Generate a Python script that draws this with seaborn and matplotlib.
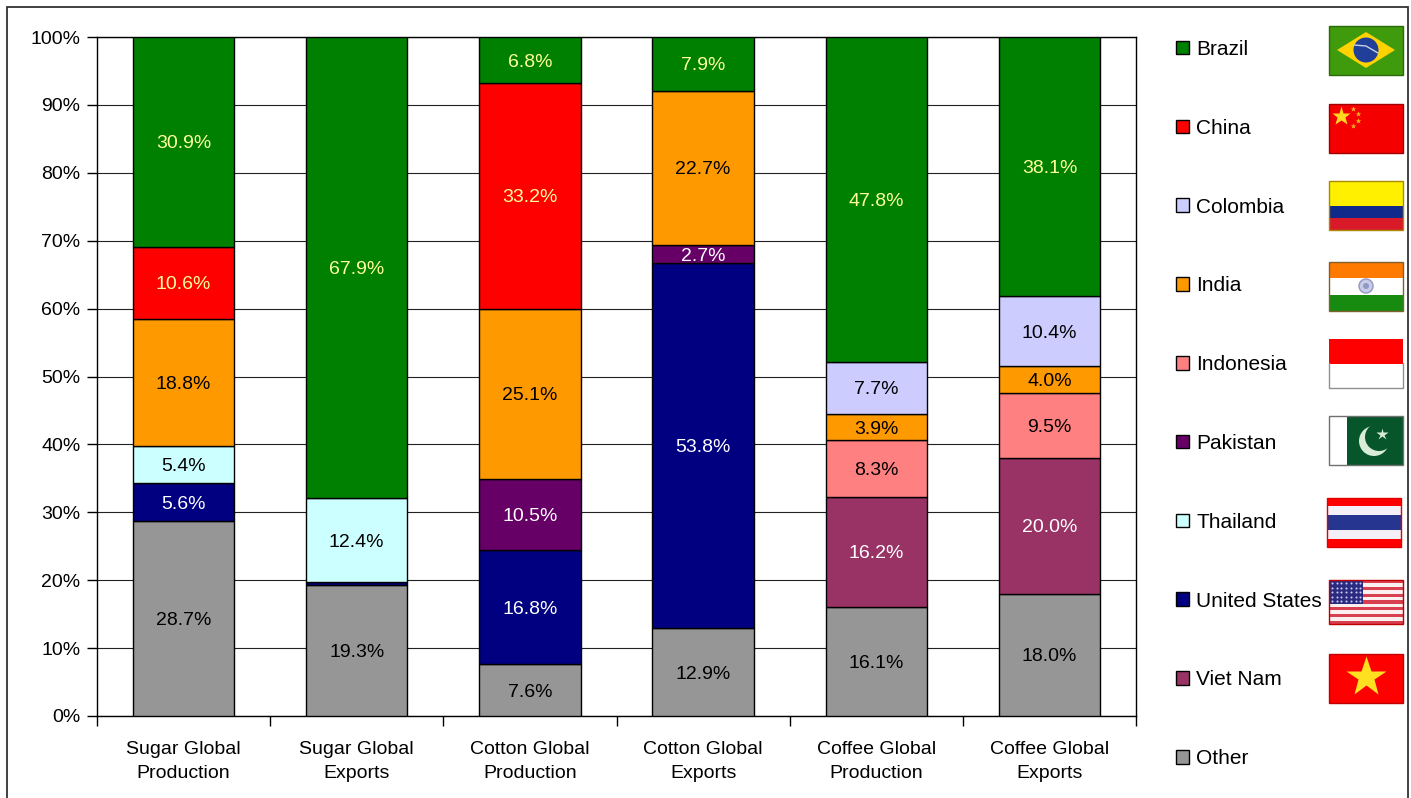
import matplotlib
matplotlib.use("Agg")
import matplotlib.pyplot as plt
from matplotlib.patches import Rectangle, Polygon, Circle, Patch
import numpy as np
import pandas as pd
import seaborn as sns

categories = ["Sugar Global\nProduction", "Sugar Global\nExports", "Cotton Global\nProduction",
              "Cotton Global\nExports", "Coffee Global\nProduction", "Coffee Global\nExports"]

other = [28.7, 19.3, 7.6, 12.9, 16.1, 18.0]
viet_nam = [0, 0, 0, 0, 16.2, 20.0]
united_states = [5.6, 0.4, 16.8, 53.8, 0, 0]
thailand = [5.4, 12.4, 0, 0, 0, 0]
pakistan = [0, 0, 10.5, 2.7, 0, 0]
indonesia = [0, 0, 0, 0, 8.3, 9.5]
india = [18.8, 0, 25.1, 22.7, 3.9, 4.0]
colombia = [0, 0, 0, 0, 7.7, 10.4]
china = [10.6, 0, 33.2, 0, 0, 0]
brazil = [30.9, 67.9, 6.8, 7.9, 47.8, 38.1]

series_names = ["Other", "Viet Nam", "United States", "Thailand", "Pakistan",
                "Indonesia", "India", "Colombia", "China", "Brazil"]
series_values = [other, viet_nam, united_states, thailand, pakistan,
                 indonesia, india, colombia, china, brazil]
series_colors = ["#969696", "#993366", "#000080", "#CCFFFF", "#660066",
                 "#FF8080", "#FF9900", "#CCCCFF", "#FF0000", "#008000"]
label_colors = ["black", "white", "white", "black", "white",
                "black", "black", "black", "#FFFF99", "#FFFF99"]
legend_order = ["Brazil", "China", "Colombia", "India", "Indonesia",
                "Pakistan", "Thailand", "United States", "Viet Nam", "Other"]
y_ticks = list(range(0, 101, 10))
MIN_LABEL = 1.0

W, H = 1411, 798
sns.set_theme(style="white")
plt.rcParams["font.family"] = ["Liberation Sans", "DejaVu Sans"]
plt.rcParams["text.color"] = "black"
plt.rcParams["xtick.color"] = "black"
plt.rcParams["ytick.color"] = "black"
plt.rcParams["axes.labelcolor"] = "black"
fig = plt.figure(figsize=(W / 100, H / 100), dpi=100, facecolor="white")
L, R, T, B = 97, 1136, 37, 716
ax = fig.add_axes([L / W, 1 - B / H, (R - L) / W, (B - T) / H])
ax.set_facecolor("white")

cum = np.zeros(len(categories))
for name, vals, col, lc in zip(series_names, series_values, series_colors, label_colors):
    vals = np.array(vals, dtype=float)
    keep = vals > 0
    df = pd.DataFrame({"cat": np.array(categories)[keep], "val": vals[keep], "bottom": cum[keep]})
    n_before = len(ax.containers)
    sns.barplot(data=df, x="cat", y="val", order=categories, bottom=df["bottom"].values,
                color=col, saturation=1, width=0.585, edgecolor="black", linewidth=1.0,
                zorder=3, ax=ax, errorbar=None)
    cont = ax.containers[n_before]
    labels = [f"{v:.1f}%" if v >= MIN_LABEL else "" for v in df["val"]]
    ax.bar_label(cont, labels=labels, label_type="center", color=lc, fontsize=14, zorder=5, padding=-1.5)
    cum += vals

ax.set_xlim(-0.5, 5.5)
ax.set_ylim(0, 100)
ax.set_xlabel("")
ax.set_ylabel("")
ax.set_yticks(y_ticks)
ax.set_yticklabels([f"{t}%" for t in y_ticks], fontsize=14, color="black")
ax.set_xticks(np.arange(-0.5, 6, 1), minor=False)
ax.set_xticklabels([])
ax.tick_params(axis="x", which="major", length=7, width=1, color="black", direction="out", bottom=True)
ax.tick_params(axis="x", which="minor", length=0, pad=18, labelsize=14, labelcolor="black")
ax.set_xticks(np.arange(len(categories)), labels=categories, minor=True)
for t in ax.get_xticklabels(minor=True):
    t.set_linespacing(1.55)
ax.tick_params(axis="y", length=7, width=1, color="black", direction="out", left=True, pad=5)
ax.grid(axis="y", color="#222222", linewidth=0.8, zorder=0)
ax.set_axisbelow(True)
for s in ax.spines.values():
    s.set_visible(True)
    s.set_color("black")
    s.set_linewidth(1.0)

handles = [Patch(facecolor=series_colors[series_names.index(n)], edgecolor="black", linewidth=1.0)
           for n in legend_order]
fig.legend(handles, legend_order, loc="upper left", bbox_to_anchor=(1176 / W, 1 - 40 / H),
           bbox_transform=fig.transFigure, frameon=False, fontsize=15, borderpad=0, borderaxespad=0,
           handlelength=0.63, handleheight=0.63, handletextpad=0.34, labelspacing=2.87,
           labelcolor="black")

# pixel-space overlay for frame and flags
ov = fig.add_axes([0, 0, 1, 1], zorder=10)
ov.set_xlim(0, W)
ov.set_ylim(H, 0)
ov.axis("off")
ov.patch.set_alpha(0)

ov.plot([7, 7, 1408, 1408], [798, 7, 7, 798], color="#333333", lw=1.3, solid_joinstyle="miter")


def stripes(x, y, w, h, bands):
    total = sum(b[0] for b in bands)
    cy = y
    for frac, c in bands:
        hh = h * frac / total
        ov.add_patch(Rectangle((x, cy), w, hh, facecolor=c, edgecolor="none"))
        cy += hh


def border(x, y, w, h, c):
    ov.add_patch(Rectangle((x, y), w, h, facecolor="none", edgecolor=c, lw=1))


# Brazil
x, y, w, h = 1329, 26, 74, 49
stripes(x, y, w, h, [(1, "#3F9A0C")])
ov.add_patch(Polygon([(x + 8, y + 24), (x + 37, y + 6), (x + 66, y + 24), (x + 37, y + 42)], facecolor="#FFD200", edgecolor="none"))
ov.add_patch(Circle((x + 37, y + 24), 12.5, facecolor="#1F3F99", edgecolor="none"))
ov.plot([x + 25, x + 37, x + 49], [y + 19, y + 20, y + 27], color="#C8D0E8", lw=1)
border(x, y, w, h, "#2A6A08")
# China
x, y, w, h = 1329, 104, 74, 49
stripes(x, y, w, h, [(1, "#F50000")])
ov.plot([x + 12], [y + 12], marker="*", ms=14, color="#FFD820", mec="none")
for dx, dy in [(24, 5), (29, 10), (29, 17), (24, 22)]:
    ov.plot([x + dx], [y + dy], marker="*", ms=4, color="#FFB020", mec="none")
border(x, y, w, h, "#A00000")
# Colombia
x, y, w, h = 1329, 181, 74, 49
stripes(x, y, w, h, [(25, "#FFF000"), (12, "#0F2A8A"), (12, "#D81A28")])
border(x, y, w, h, "#A88A00")
# India
x, y, w, h = 1329, 262, 74, 49
stripes(x, y, w, h, [(16, "#FF7A00"), (17, "white"), (16, "#178A10")])
ov.add_patch(Circle((x + 37, y + 24), 7, facecolor="#C8CCE4", edgecolor="#9098C8", lw=1))
ov.add_patch(Circle((x + 37, y + 24), 3, facecolor="#9098C8", edgecolor="none"))
border(x, y, w, h, "#806030")
# Indonesia
x, y, w, h = 1329, 339, 74, 49
stripes(x, y, w, h, [(1, "#FF0000"), (1, "white")])
ov.plot([x, x, x + w, x + w], [y + 24, y + h, y + h, y + 24], color="#909090", lw=1)
# Pakistan
x, y, w, h = 1329, 416, 74, 49
ov.add_patch(Rectangle((x, y), 18, h, facecolor="white", edgecolor="none"))
ov.add_patch(Rectangle((x + 18, y), w - 18, h, facecolor="#07552B", edgecolor="none"))
ov.add_patch(Circle((x + 45, y + 25), 15, facecolor="#D8ECD8", edgecolor="none"))
ov.add_patch(Circle((x + 50, y + 21), 14, facecolor="#07552B", edgecolor="none"))
ov.plot([x + 53], [y + 18], marker="*", ms=9, color="#D8ECD8", mec="none")
border(x, y, w, h, "#707070")
# Thailand
x, y, w, h = 1327, 498, 74, 49
stripes(x, y, w, h, [(8, "#FF0000"), (9, "#F4F0F8"), (15, "#263590"), (9, "#F4F0F8"), (8, "#FF0000")])
border(x, y, w, h, "#E00000")
# United States
x, y, w, h = 1329, 580, 74, 44
stripes(x, y, w, h, [(1, "#D84050" if i % 2 == 0 else "#FBEFF0") for i in range(13)])
ov.add_patch(Rectangle((x, y), 34, 23.7, facecolor="#2A2A80", edgecolor="none"))
for r in range(5):
    for c in range(7):
        ov.plot([x + 3 + c * 4.7], [y + 3 + r * 4.5], marker=".", ms=3, color="#C8C8F0", mec="none")
border(x, y, w, h, "#C00000")
# Viet Nam
x, y, w, h = 1329, 654, 74, 49
stripes(x, y, w, h, [(1, "#FF0000")])
ov.plot([x + 37], [y + 23], marker="*", ms=30, color="#FFE020", mec="none")
border(x, y, w, h, "#C00000")

fig.savefig("out.png", dpi=100, facecolor="white")
